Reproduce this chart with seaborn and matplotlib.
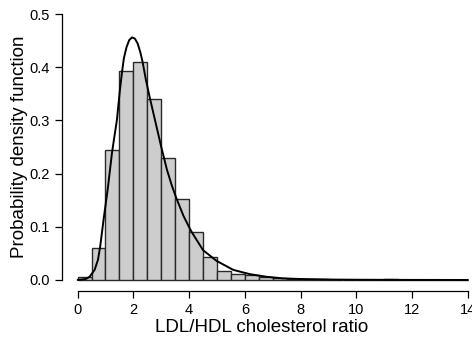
import numpy as np
import matplotlib
matplotlib.use("Agg")
import matplotlib.pyplot as plt
import seaborn as sns

# Histogram (density), bin width 0.5 from 0 to 14
bin_edges = [0.0, 0.5, 1.0, 1.5, 2.0, 2.5, 3.0, 3.5, 4.0, 4.5, 5.0, 5.5, 6.0, 6.5, 7.0,
             7.5, 8.0, 8.5, 9.0, 9.5, 10.0, 10.5, 11.0, 11.5, 12.0, 12.5, 13.0, 13.5, 14.0]
bin_heights = [0.006, 0.061, 0.244, 0.393, 0.409, 0.341, 0.229, 0.153, 0.090, 0.043,
               0.016, 0.011, 0.009, 0.005, 0.003, 0.002, 0.001, 0.001, 0.0005, 0.0005,
               0.0003, 0.0003, 0.001, 0.0003, 0.0002, 0.0002, 0.0008, 0.0003]

# Fitted density curve
curve_x = [0.0, 0.3, 0.43, 0.61, 0.73, 0.81, 0.93, 1.01, 1.09, 1.23, 1.32, 1.41, 1.51,
           1.59, 1.66, 1.75, 1.85, 1.95, 2.05, 2.15, 2.25, 2.33, 2.45, 2.6, 2.8, 3.0,
           3.2, 3.37, 3.54, 3.8, 4.08, 4.5, 4.98, 5.58, 6.17, 6.77, 7.37, 8.0, 9.0,
           10.0, 12.0, 14.0]
curve_y = [0.0, 0.002, 0.006, 0.019, 0.038, 0.063, 0.113, 0.144, 0.175, 0.238, 0.270,
           0.301, 0.354, 0.390, 0.417, 0.437, 0.451, 0.456, 0.454, 0.445, 0.428, 0.41,
           0.376, 0.34, 0.295, 0.250, 0.208, 0.179, 0.154, 0.12, 0.091, 0.056, 0.036,
           0.019, 0.011, 0.006, 0.003, 0.0018, 0.0008, 0.0004, 0.0001, 0.0]

x_ticks = [0, 2, 4, 6, 8, 10, 12, 14]
y_ticks = [0.0, 0.1, 0.2, 0.3, 0.4, 0.5]
x_label = "LDL/HDL cholesterol ratio"
y_label = "Probability density function"

sns.set_style("ticks")
plt.rcParams["font.family"] = ["Liberation Sans", "DejaVu Sans"]

fig = plt.figure(figsize=(4.72, 3.41), dpi=100)
W, H = 472, 341
left_px, right_px, top_px, bottom_px = 62, 483.6, 3.4, 290.6
ax = fig.add_axes([left_px / W, 1 - bottom_px / H,
                   (right_px - left_px) / W, (bottom_px - top_px) / H])

centers = [(a + b) / 2 for a, b in zip(bin_edges[:-1], bin_edges[1:])]
sns.histplot(x=centers, weights=bin_heights, bins=bin_edges, stat="count",
             color="#cdcdcd", edgecolor="#2a2a2a", linewidth=1.0, alpha=1.0, ax=ax)
sns.lineplot(x=curve_x, y=curve_y, color="black", linewidth=1.4, ax=ax)

ax.set_xlim(-0.56, 14.56)
ax.set_ylim(-0.02, 0.52)
ax.set_xticks(x_ticks)
ax.set_xticklabels([str(t) for t in x_ticks])
ax.set_yticks(y_ticks)
ax.set_yticklabels([f"{t:.1f}" for t in y_ticks])

for s in ["top", "right"]:
    ax.spines[s].set_visible(False)
ax.spines["left"].set_bounds(0, 0.5)
ax.spines["bottom"].set_bounds(0, 14)
for s in ["left", "bottom"]:
    ax.spines[s].set_linewidth(0.9)
    ax.spines[s].set_color("black")

ax.tick_params(axis="both", direction="out", length=5, width=0.9, colors="black",
               labelsize=10.5, pad=4)

ax.set_xlabel(x_label, fontsize=13.5, color="black")
ax.set_ylabel(y_label, fontsize=13.5, color="black")
ax.yaxis.set_label_coords((20 - left_px) / (right_px - left_px), 0.5)
ax.yaxis.label.set_va("center")
ax.xaxis.set_label_coords((262 - left_px) / (right_px - left_px),
                          (bottom_px - 328) / (bottom_px - top_px))
ax.xaxis.label.set_va("center")
ax.xaxis.label.set_ha("center")

fig.savefig("out.png", dpi=100)
